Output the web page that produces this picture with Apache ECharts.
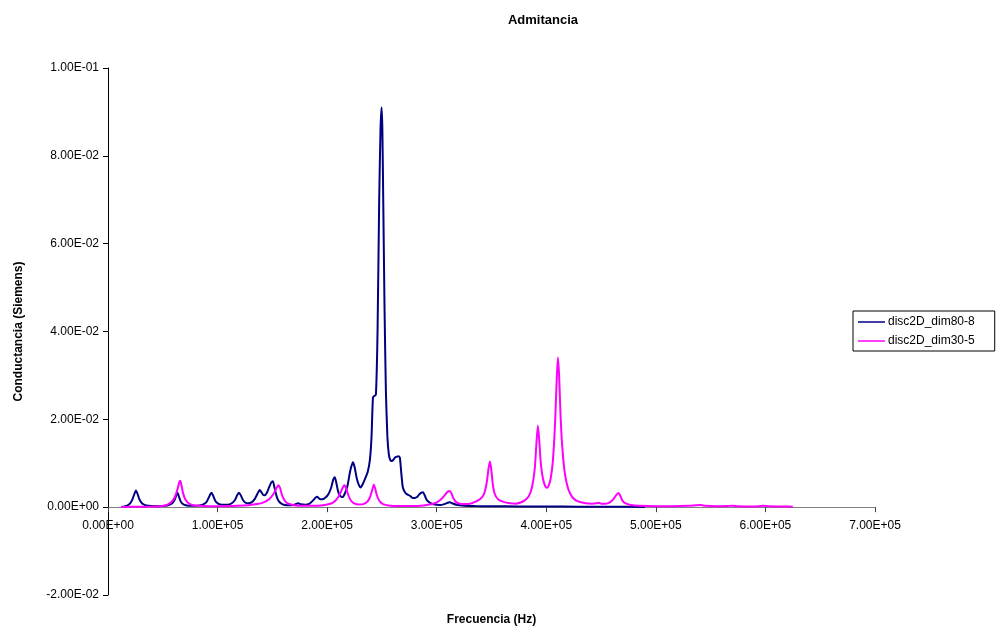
<!DOCTYPE html>
<html>
<head>
<meta charset="utf-8">
<title>Admitancia</title>
<script src="https://cdn.jsdelivr.net/npm/echarts@6/dist/echarts.min.js"></script>
<style>
  html, body { margin: 0; padding: 0; background: #fff; }
  #chart { width: 1003px; height: 632px; }
</style>
</head>
<body>
<div id="chart"></div>
<script>
// Conductance vs frequency for two disc models (Hz, Siemens)
const seriesNames = ['disc2D_dim80-8', 'disc2D_dim30-5'];

const freqA = [
  12e3, 15e3, 18e3, 20e3, 22e3, 23.5e3, 25.5e3, 27e3, 28.5e3, 30e3, 32e3, 35e3, 40e3, 46e3, 52e3,
  56e3, 59e3, 61e3, 62.5e3, 63.5e3, 64.5e3, 66e3, 68e3, 71e3, 76e3, 82e3, 87e3, 90e3, 92e3,
  93.5e3, 94.5e3, 96e3, 98e3, 100.5e3, 104e3, 109e3, 113e3, 116e3, 118e3, 119.5e3, 121e3,
  123e3, 125.5e3, 128e3, 131e3, 134e3, 136.5e3, 138.5e3, 140e3, 141.5e3, 143e3, 145e3, 147e3,
  149e3, 150.5e3, 152e3, 154e3, 156e3, 159e3, 163e3, 168e3, 171e3, 173.5e3, 176e3, 180e3,
  184e3, 187e3, 189.5e3, 191e3, 193e3, 195.5e3, 198e3, 201e3, 203.5e3, 205.5e3, 207e3,
  208.5e3, 210e3, 212e3, 214e3, 216e3, 218.5e3, 221e3, 223.5e3, 225e3, 227e3, 229e3, 230.5e3,
  232e3, 234.5e3, 237e3, 239e3, 240.5e3, 241.8e3, 243e3, 244.5e3, 246e3, 247.5e3, 248.7e3,
  249.7e3, 250.4e3, 251.2e3, 252.4e3, 253.6e3, 255e3, 256.3e3, 257.5e3, 259e3, 260.5e3, 262e3,
  263.7e3, 265.2e3, 266.4e3, 267.6e3, 269e3, 271e3, 273e3, 275.5e3, 278e3, 280e3, 282e3, 284e3,
  286e3, 287.5e3, 289e3, 291e3, 294e3, 298e3, 303e3, 307e3, 310e3, 312e3, 314e3, 318e3, 325e3,
  335e3, 350e3, 375e3, 400e3, 430e3, 460e3, 490e3
];
const condA = [
  0.05e-3, 0.15e-3, 0.4e-3, 0.8e-3, 1.6e-3, 2.6e-3, 3.8e-3, 3.0e-3, 1.9e-3, 1.2e-3, 0.7e-3, 0.4e-3, 0.25e-3, 0.22e-3, 0.3e-3,
  0.55e-3, 1.0e-3, 1.8e-3, 2.8e-3, 3.3e-3, 2.6e-3, 1.5e-3, 0.8e-3, 0.45e-3, 0.3e-3, 0.35e-3, 0.65e-3, 1.2e-3, 2.2e-3,
  3.0e-3, 3.3e-3, 2.6e-3, 1.4e-3, 0.8e-3, 0.55e-3, 0.55e-3, 0.9e-3, 1.7e-3, 2.8e-3, 3.3e-3, 2.8e-3,
  1.7e-3, 1.0e-3, 0.9e-3, 1.1e-3, 1.9e-3, 3.1e-3, 3.9e-3, 3.4e-3, 2.8e-3, 2.7e-3, 3.3e-3, 4.5e-3,
  5.6e-3, 5.9e-3, 4.4e-3, 2.4e-3, 1.3e-3, 0.7e-3, 0.45e-3, 0.45e-3, 0.65e-3, 0.9e-3, 0.65e-3, 0.55e-3,
  0.8e-3, 1.5e-3, 2.2e-3, 2.4e-3, 1.9e-3, 1.8e-3, 2.1e-3, 2.9e-3, 4.3e-3, 6.2e-3, 6.8e-3,
  5.4e-3, 3.6e-3, 2.5e-3, 2.3e-3, 3.0e-3, 4.8e-3, 8.2e-3, 10.2e-3, 9.2e-3, 6.6e-3, 5.0e-3, 4.5e-3,
  5.0e-3, 6.4e-3, 8.0e-3, 10.7e-3, 16.0e-3, 25.0e-3, 25.3e-3, 25.6e-3, 40.0e-3, 69.8e-3, 86.0e-3,
  91.0e-3, 86.0e-3, 69.8e-3, 45.0e-3, 26.6e-3, 16.0e-3, 12.0e-3, 10.8e-3, 10.5e-3, 10.8e-3, 11.3e-3,
  11.5e-3, 11.6e-3, 11.2e-3, 8.0e-3, 4.6e-3, 3.4e-3, 2.9e-3, 2.6e-3, 2.1e-3, 2.1e-3, 2.3e-3, 2.9e-3,
  3.3e-3, 3.4e-3, 2.7e-3, 1.6e-3, 1.0e-3, 0.6e-3, 0.5e-3, 0.7e-3, 1.0e-3, 1.1e-3, 0.9e-3, 0.55e-3, 0.35e-3,
  0.25e-3, 0.2e-3, 0.18e-3, 0.15e-3, 0.12e-3, 0.1e-3, 0.06e-3
];

const freqB = [
  12e3, 20e3, 30e3, 40e3, 47e3, 52e3, 56e3, 59e3, 61.5e3, 63.5e3, 65e3, 66e3, 67e3, 68.5e3,
  70.5e3, 73e3, 77e3, 83e3, 92e3, 105e3, 118e3, 128e3, 136e3, 142e3, 147e3, 151e3, 153.5e3,
  155.5e3, 157e3, 158.5e3, 160.5e3, 163e3, 167e3, 173e3, 182e3, 192e3, 200e3, 205e3, 209e3,
  212e3, 214.5e3, 216e3, 217.5e3, 219.5e3, 222e3, 225e3, 229e3, 233e3, 236.5e3, 239e3, 241e3,
  242.5e3, 243.8e3, 245.5e3, 248e3, 251e3, 256e3, 265e3, 278e3, 288e3, 295e3, 300e3, 304e3,
  307.5e3, 310e3, 312e3, 313.5e3, 315.5e3, 318e3, 322e3, 327e3, 332e3, 336e3, 340e3, 343e3,
  345.5e3, 347.3e3, 348.5e3, 349.7e3, 351.2e3, 353e3, 356e3, 361e3, 367e3, 372e3, 376e3, 380e3,
  384e3, 387e3, 389.5e3, 391e3, 392.3e3, 393.5e3, 395e3, 397e3, 399e3, 400.5e3, 402e3, 404e3,
  406e3, 408e3, 409.5e3, 410.6e3, 411.7e3, 413e3, 414.5e3, 416.5e3, 418.5e3, 420.5e3, 424e3,
  429e3, 436e3, 442e3, 446e3, 448e3, 450e3, 454e3, 458e3, 461.5e3, 464e3, 466e3, 467.5e3,
  469.5e3, 472e3, 477e3, 485e3, 500e3, 515e3, 530e3, 537e3, 541e3, 545e3, 555e3, 565e3, 570e3,
  575e3, 590e3, 598e3, 603e3, 615e3, 625e3
];
const condB = [
  0.05e-3, 0.08e-3, 0.1e-3, 0.14e-3, 0.22e-3, 0.4e-3, 0.8e-3, 1.5e-3, 2.6e-3, 4.2e-3, 5.6e-3, 6.0e-3, 5.0e-3, 3.2e-3,
  1.8e-3, 1.0e-3, 0.5e-3, 0.3e-3, 0.2e-3, 0.2e-3, 0.3e-3, 0.45e-3, 0.7e-3, 1.1e-3, 1.8e-3, 3.0e-3, 4.2e-3,
  5.0e-3, 4.4e-3, 3.0e-3, 1.8e-3, 1.0e-3, 0.6e-3, 0.35e-3, 0.3e-3, 0.35e-3, 0.6e-3, 1.0e-3, 1.9e-3,
  3.2e-3, 4.6e-3, 5.0e-3, 4.2e-3, 2.6e-3, 1.4e-3, 0.8e-3, 0.6e-3, 0.7e-3, 1.2e-3, 2.2e-3, 3.8e-3,
  5.1e-3, 4.3e-3, 2.6e-3, 1.3e-3, 0.7e-3, 0.4e-3, 0.25e-3, 0.25e-3, 0.4e-3, 0.65e-3, 1.1e-3, 1.8e-3,
  2.8e-3, 3.5e-3, 3.7e-3, 3.1e-3, 1.9e-3, 1.1e-3, 0.75e-3, 0.7e-3, 0.9e-3, 1.3e-3, 1.9e-3, 2.9e-3,
  5.4e-3, 8.8e-3, 10.4e-3, 8.8e-3, 5.2e-3, 3.0e-3, 1.8e-3, 1.2e-3, 0.9e-3, 0.8e-3, 1.0e-3, 1.5e-3,
  2.5e-3, 4.6e-3, 8.8e-3, 14.5e-3, 18.6e-3, 15.5e-3, 10.0e-3, 6.4e-3, 4.8e-3, 4.4e-3, 4.8e-3, 6.5e-3,
  10.5e-3, 19.0e-3, 29.0e-3, 34.1e-3, 30.0e-3, 21.0e-3, 14.0e-3, 8.5e-3, 5.6e-3, 3.8e-3, 2.2e-3,
  1.3e-3, 0.9e-3, 0.8e-3, 0.9e-3, 1.0e-3, 0.8e-3, 0.8e-3, 1.1e-3, 1.9e-3, 2.8e-3, 3.2e-3, 2.6e-3,
  1.5e-3, 0.9e-3, 0.5e-3, 0.3e-3, 0.2e-3, 0.2e-3, 0.3e-3, 0.45e-3, 0.5e-3, 0.3e-3, 0.2e-3, 0.25e-3, 0.35e-3,
  0.2e-3, 0.15e-3, 0.3e-3, 0.2e-3, 0.15e-3, 0.1e-3
];

const xRange = { min: 0, max: 7e5, step: 1e5 };
const yRange = { min: -0.02, max: 0.1, step: 0.02 };

// Spreadsheet-style scientific notation: 1.00E-01, 0.00E+00
function sci(v) {
  if (Math.abs(v) < 1e-12) return '0.00E+00';
  const parts = v.toExponential(2).split('e');
  const exp = parseInt(parts[1], 10);
  return parts[0] + 'E' + (exp < 0 ? '-' : '+') + String(Math.abs(exp)).padStart(2, '0');
}

function pairs(xs, ys) {
  return xs.map((x, i) => [x, ys[i]]);
}

const font = 'Arial, "Liberation Sans", sans-serif';
const gridBox = { left: 108, right: 128, top: 68, bottom: 37 };
const chart = echarts.init(document.getElementById('chart'), null, { renderer: 'canvas' });

// The category axis sits on the zero line of the value axis; its distance
// from the grid's bottom edge comes from the y scale itself.
const plotHeight = 632 - gridBox.top - gridBox.bottom;
const zeroOffset = -plotHeight * (0 - yRange.min) / (yRange.max - yRange.min);

chart.setOption({
  backgroundColor: '#ffffff',
  animation: false,
  title: {
    text: 'Admitancia',
    left: 538,
    top: 9,
    textAlign: 'center',
    textStyle: { fontFamily: font, fontSize: 13, fontWeight: 'bold', color: '#000' }
  },
  legend: {
    orient: 'vertical',
    left: 853,
    top: 311,
    padding: [5, 20, 4, 5],
    itemGap: 7,
    itemWidth: 27,
    itemHeight: 1.5,
    icon: 'rect',
    borderColor: '#000',
    borderWidth: 1,
    textStyle: { fontFamily: font, fontSize: 12, color: '#000', padding: [0, 0, 0, -2] },
    data: seriesNames
  },
  grid: Object.assign({ containLabel: false, outerBoundsMode: 'none' }, gridBox),
  xAxis: {
    type: 'value',
    min: xRange.min,
    max: xRange.max,
    interval: xRange.step,
    offset: zeroOffset,
    name: 'Frecuencia (Hz)',
    nameLocation: 'middle',
    nameGap: 107,
    nameTextStyle: { fontFamily: font, fontSize: 12, fontWeight: 'bold', color: '#000' },
    axisLine: { onZero: false, lineStyle: { color: '#808080', width: 1 } },
    axisTick: { inside: false, length: 5, lineStyle: { color: '#404040' } },
    axisLabel: { formatter: sci, margin: 13, fontFamily: font, fontSize: 12, color: '#000' },
    splitLine: { show: false }
  },
  yAxis: {
    type: 'value',
    min: yRange.min,
    max: yRange.max,
    interval: yRange.step,
    name: 'Conductancia (Siemens)',
    nameLocation: 'middle',
    nameGap: 83,
    nameTextStyle: { fontFamily: font, fontSize: 12, fontWeight: 'bold', color: '#000' },
    axisLine: { show: true, onZero: false, lineStyle: { color: '#000', width: 1 } },
    axisTick: { show: true, inside: false, length: 5, lineStyle: { color: '#000' } },
    axisLabel: { formatter: sci, margin: 9, fontFamily: font, fontSize: 12, color: '#000' },
    splitLine: { show: false }
  },
  series: [
    {
      name: seriesNames[0],
      type: 'line',
      data: pairs(freqA, condA),
      symbol: 'none',
      smooth: 0.2,
      lineStyle: { color: '#000080', width: 2 },
      itemStyle: { color: '#000080' },
      z: 2
    },
    {
      name: seriesNames[1],
      type: 'line',
      data: pairs(freqB, condB),
      symbol: 'none',
      smooth: 0.2,
      lineStyle: { color: '#ff00ff', width: 2 },
      itemStyle: { color: '#ff00ff' },
      z: 3
    }
  ]
});
</script>
</body>
</html>
